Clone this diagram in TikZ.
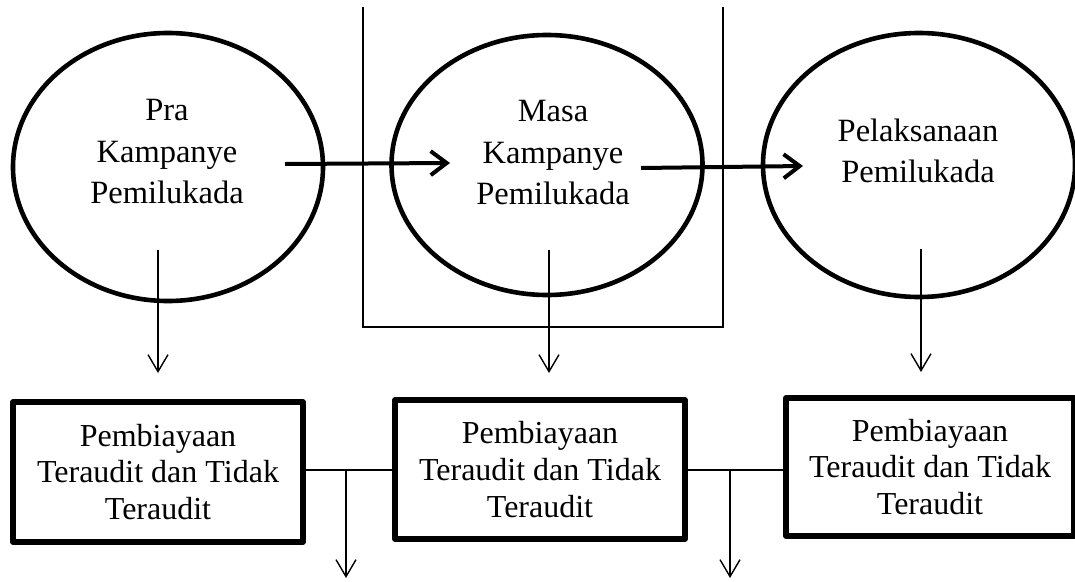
\documentclass[tikz,border=0pt]{standalone}
\usepackage{fontspec}
\setmainfont{Liberation Serif}
\usetikzlibrary{arrows.meta,shapes.geometric}
\begin{document}
\begin{tikzpicture}[x=1pt,y=-1pt,
  ell/.style={draw,ellipse,line width=4.6pt,inner sep=0pt},
  txt/.style={align=center,font=\fontsize{32.5}{41.5}\selectfont,inner sep=0pt},
  box/.style={draw,line width=5.2pt,inner sep=0pt,line join=round,align=center,font=\fontsize{32}{36.8}\selectfont},
  bigarrow/.style={line width=4pt,-{Straight Barb[length=16pt,width=24pt]}},
  smallarrow/.style={line width=1.4pt,-{Straight Barb[length=17pt,width=20pt]}},
  wall/.style={line width=2.2pt},
  link/.style={line width=1.4pt}]
\useasboundingbox (0,0) rectangle (1075,581);

% U-shaped frame
\draw[wall] (363,7) -- (363,327) -- (723,327) -- (723,7);

% ellipses
\node[ell,minimum width=310pt,minimum height=268pt] (e1) at (168,167) {};
\node[ell,minimum width=311pt,minimum height=260pt] (e2) at (547,165) {};
\node[ell,minimum width=312pt,minimum height=264pt] (e3) at (919,165) {};

\node[txt] (t1) at (167,152) {Pra\\Kampanye\\Pemilukada};
\node[txt] (t2) at (553,153) {Masa\\Kampanye\\Pemilukada};
\node[txt] (t3) at (918,151) {Pelaksanaan\\Pemilukada};

% boxes
\node[box,minimum width=290pt,minimum height=140pt] (b1) at (158,472) {Pembiayaan\\Teraudit dan Tidak\\Teraudit};
\node[box,minimum width=290pt,minimum height=139pt] (b2) at (540,469.5) {Pembiayaan\\Teraudit dan Tidak\\Teraudit};
\node[box,minimum width=288pt,minimum height=138pt] (b3) at (930,467) {Pembiayaan\\Teraudit dan Tidak\\Teraudit};

% horizontal thick arrows
\coordinate (a1s) at (285,164);
\coordinate (a1e) at (450,163);
\coordinate (a2s) at (641,168);
\coordinate (a2e) at (803,166);
\draw[bigarrow] (a1s) -- (a1e);
\draw[bigarrow] (a2s) -- (a2e);

% down arrows from ellipses
\coordinate (d1s) at (158,250);
\coordinate (d1e) at (158,373);
\coordinate (d2s) at (549,250);
\coordinate (d2e) at (549,373);
\coordinate (d3s) at (921,249);
\coordinate (d3e) at (921,372);
\draw[smallarrow] (d1s) -- (d1e);
\draw[smallarrow] (d2s) -- (d2e);
\draw[smallarrow] (d3s) -- (d3e);

% links between boxes
\coordinate (j1) at (346,470);
\coordinate (j2) at (730,470);
\coordinate (o1) at (346,578);
\coordinate (o2) at (730,578);
\draw[link] (b1.east |- j1) -- (b2.west |- j1);
\draw[link] (b2.east |- j2) -- (b3.west |- j2);
\draw[smallarrow] (j1) -- (o1);
\draw[smallarrow] (j2) -- (o2);
\end{tikzpicture}
\end{document}
